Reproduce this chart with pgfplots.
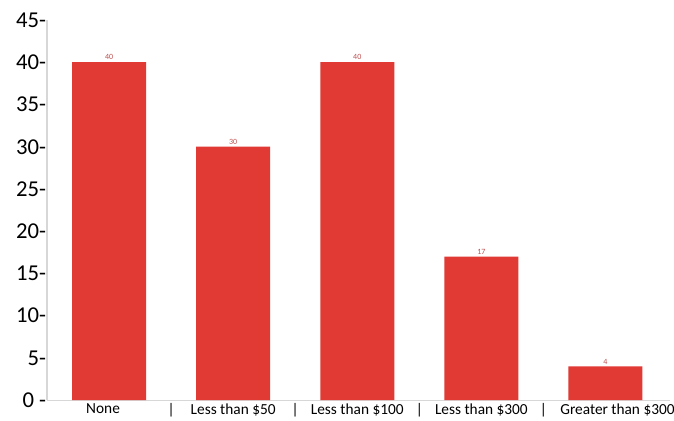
\documentclass[border=0pt]{standalone}
\usepackage{fontspec}
\setmainfont{Carlito}
\usepackage{pgfplots}
\pgfplotsset{compat=1.18}
\definecolor{barred}{RGB}{225,57,52}
\definecolor{vallab}{RGB}{190,80,80}
\definecolor{axgray}{RGB}{215,215,215}
\begin{document}
\begin{tikzpicture}[x=1pt,y=1pt]
\begin{axis}[
  scale only axis,
  width=467pt, height=285pt,
  xmin=-0.5, xmax=4.52,
  ymin=0, ymax=45,
  axis lines=left,
  axis line style={-, draw=axgray, line width=0.8pt},
  major tick length=0pt,
  /pgf/number format/assume math mode=true,
  ytick={0,5,...,45},
  yticklabels={0 -,5-,10-,15-,20-,25-,30-,35-,40-,45-},
  yticklabel style={font=\fontsize{17}{18}\selectfont, inner sep=0.5pt, anchor=east},
  xtick={0,1,2,3,4},
  xticklabels={None\hspace*{9pt},Less than \$50,Less than \$100,Less than \$300,\hspace*{18pt}Greater than \$300},
  xticklabel style={font=\fontsize{11.5}{12}\selectfont, inner sep=1pt, anchor=north, yshift=-1.5pt},
  extra x ticks={0.5,1.5,2.5,3.5},
  extra x tick labels={|,|,|,|},
  extra x tick style={major tick length=0pt, xticklabel style={font=\fontsize{11.5}{12}\selectfont}},
  ybar, bar width=55.5pt,
  nodes near coords={\pgfmathprintnumber[assume math mode=true]{\pgfplotspointmeta}},
  nodes near coords style={font=\fontsize{6}{6}\selectfont, text=vallab, inner sep=1.5pt},
  clip=false,
]
\addplot[fill=barred, draw=none] coordinates {(0,40) (1,30) (2,40) (3,17) (4,4)};
\end{axis}
\pgfresetboundingbox
\path[use as bounding box] (current axis.south west) ++(-35.25pt,-15pt) rectangle ([xshift=3pt,yshift=15pt]current axis.north east);
\end{tikzpicture}
\end{document}
